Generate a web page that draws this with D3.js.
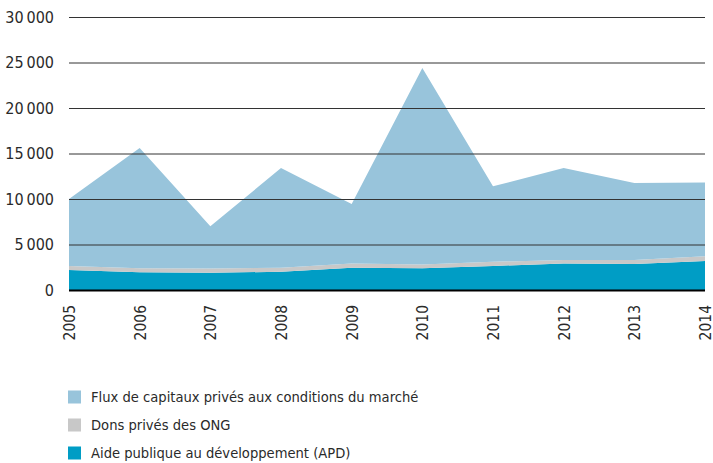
<!DOCTYPE html>
<html>
<head>
<meta charset="utf-8">
<script src="https://cdn.jsdelivr.net/npm/d3@7"></script>
<style>
  body { margin: 0; background: #fff; }
  text { font-family: "Liberation Sans Narrow", "DejaVu Sans Condensed", sans-serif; fill: #2a2a2a; }
</style>
</head>
<body>
<svg width="713" height="463"></svg>
<script>
// values (millions)
const years = [2005, 2006, 2007, 2008, 2009, 2010, 2011, 2012, 2013, 2014];
const apd = [2200, 1950, 1900, 2000, 2450, 2400, 2650, 2900, 2850, 3200];
const ong = [450, 450, 450, 450, 450, 400, 450, 400, 450, 500];
const flux = [7350, 13200, 4650, 10950, 6550, 21600, 8300, 10100, 8450, 8100];

const keys = ["apd", "ong", "flux"];
const labels = {
    flux: "Flux de capitaux privés aux conditions du marché",
    ong: "Dons privés des ONG",
    apd: "Aide publique au développement (APD)"
};
const colors = {apd: "#009dc5", ong: "#c8c8c8", flux: "#98c4db"};
const yTicks = [0, 5000, 10000, 15000, 20000, 25000, 30000];

const table = years.map((y, i) => ({year: y, apd: apd[i], ong: ong[i], flux: flux[i]}));

const svg = d3.select("svg");

const x = d3.scaleLinear()
    .domain([years[0], years[years.length - 1]])
    .range([69, 705]);

const y = d3.scaleLinear()
    .domain([0, 30000])
    .range([290, 17]);

const stack = d3.stack().keys(keys);
const series = stack(table);

const area = d3.area()
    .x(d => x(d.data.year))
    .y0(d => y(d[0]))
    .y1(d => y(d[1]));

svg.append("g")
    .selectAll("path")
    .data(series).enter()
    .append("path")
    .attr("d", area)
    .style("fill", d => colors[d.key]);

// grid lines sit on top of the areas
var yAxis = d3.axisLeft(y)
    .tickValues(yTicks)
    .tickSize(-(705 - 69))
    .tickPadding(15)
    .tickFormat(d => d === 0 ? "0" : d3.format(",")(d).replace(",", "\u2009"));

svg.append("g")
    .attr("class", "y axis")
    .attr("transform", "translate(69,0)")
    .call(yAxis)
    .call(g => g.select(".domain").remove())
    .call(g => g.selectAll(".tick line")
        .attr("stroke", d => d === 0 ? "#000" : "#333")
        .attr("stroke-width", d => d === 0 ? 2 : 1))
    .call(g => g.selectAll(".tick text")
        .attr("font-size", 16)
        .attr("font-family", null));

var xAxis = d3.axisBottom(x)
    .tickValues(years)
    .tickSize(0)
    .tickFormat(d3.format("d"));

svg.append("g")
    .attr("class", "x axis")
    .attr("transform", "translate(0,290)")
    .call(xAxis)
    .call(g => g.select(".domain").remove())
    .call(g => g.selectAll(".tick text")
        .attr("font-size", 15.5)
        .attr("font-family", null)
        .attr("transform", "rotate(-90)")
        .attr("text-anchor", "end")
        .attr("x", -15)
        .attr("y", 0)
        .attr("dy", "0.35em"));

// legend
const legend = svg.append("g")
    .selectAll("g")
    .data(["flux", "ong", "apd"]).enter()
    .append("g")
    .attr("transform", (d, i) => "translate(68," + (397 + i * 28) + ")");

legend.append("rect")
    .attr("x", 0)
    .attr("y", -6.5)
    .attr("width", 13)
    .attr("height", 13)
    .style("fill", d => colors[d]);

legend.append("text")
    .attr("x", 23)
    .attr("dy", "0.35em")
    .attr("font-size", 14.6)
    .text(d => labels[d]);
</script>
</body>
</html>
